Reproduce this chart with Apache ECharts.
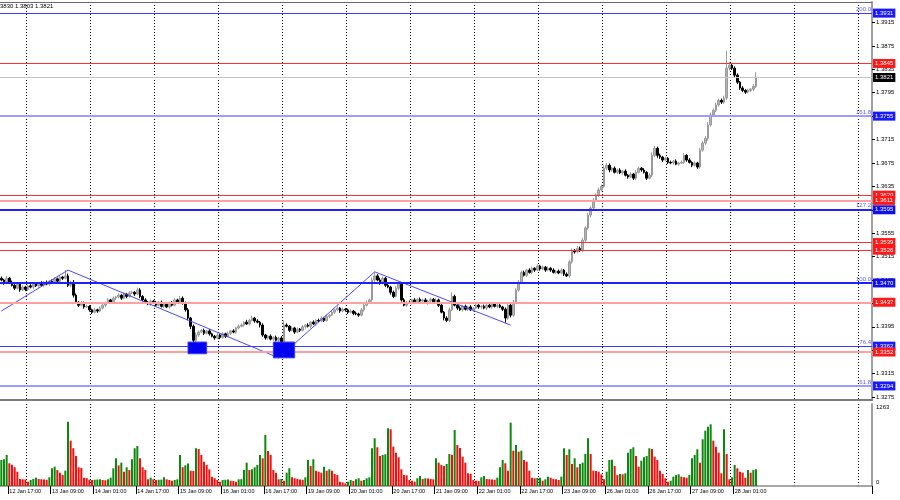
<!DOCTYPE html>
<html><head><meta charset="utf-8">
<script src="https://cdn.jsdelivr.net/npm/echarts@6/dist/echarts.min.js"></script>
<style>html,body{margin:0;padding:0;background:#fff}#c{width:900px;height:500px}</style>
</head><body><div id="c"></div>
<script>
const headerText = '3830 1.3803 1.3821';
const firstOpen = 1.3478;
const closes = [
1.3475,1.3470,1.3478,1.3471,1.3466,1.3461,1.3468,1.3458,1.3463,1.3459,
1.3465,1.3463,1.3468,1.3465,1.3470,1.3466,1.3471,1.3468,1.3473,1.3470,
1.3477,1.3473,1.3480,1.3478,1.3482,1.3466,1.3471,1.3449,1.3437,1.3432,
1.3436,1.3429,1.3430,1.3424,1.3420,1.3424,1.3422,1.3427,1.3432,1.3436,
1.3441,1.3437,1.3444,1.3446,1.3449,1.3444,1.3451,1.3447,1.3453,1.3454,
1.3451,1.3458,1.3447,1.3441,1.3437,1.3434,1.3439,1.3436,1.3432,1.3437,
1.3430,1.3434,1.3429,1.3436,1.3432,1.3441,1.3437,1.3444,1.3436,1.3424,
1.3410,1.3396,1.3372,1.3381,1.3386,1.3389,1.3384,1.3388,1.3383,1.3379,
1.3376,1.3381,1.3377,1.3383,1.3379,1.3384,1.3388,1.3386,1.3393,1.3396,
1.3398,1.3403,1.3400,1.3406,1.3410,1.3405,1.3403,1.3398,1.3381,1.3376,
1.3379,1.3374,1.3377,1.3372,1.3376,1.3355,1.3398,1.3396,1.3389,1.3393,
1.3386,1.3391,1.3389,1.3395,1.3398,1.3396,1.3403,1.3400,1.3406,1.3405,
1.3410,1.3406,1.3413,1.3415,1.3420,1.3424,1.3427,1.3422,1.3425,1.3424,
1.3420,1.3422,1.3418,1.3417,1.3415,1.3424,1.3432,1.3437,1.3441,1.3475,
1.3482,1.3475,1.3470,1.3478,1.3466,1.3463,1.3454,1.3447,1.3461,1.3468,
1.3441,1.3432,1.3437,1.3436,1.3441,1.3437,1.3442,1.3439,1.3441,1.3436,
1.3439,1.3442,1.3437,1.3441,1.3432,1.3420,1.3410,1.3406,1.3424,1.3447,
1.3432,1.3427,1.3424,1.3430,1.3425,1.3429,1.3424,1.3427,1.3432,1.3429,
1.3430,1.3427,1.3432,1.3429,1.3434,1.3430,1.3432,1.3429,1.3425,1.3410,
1.3432,1.3415,1.3437,1.3458,1.3471,1.3488,1.3483,1.3492,1.3488,1.3495,
1.3492,1.3499,1.3494,1.3497,1.3492,1.3495,1.3492,1.3488,1.3490,1.3487,
1.3492,1.3485,1.3482,1.3506,1.3526,1.3523,1.3529,1.3526,1.3543,1.3564,
1.3586,1.3598,1.3611,1.3620,1.3629,1.3635,1.3666,1.3671,1.3663,1.3666,
1.3659,1.3663,1.3658,1.3661,1.3654,1.3651,1.3656,1.3649,1.3659,1.3666,
1.3663,1.3659,1.3649,1.3654,1.3688,1.3700,1.3688,1.3685,1.3680,1.3683,
1.3676,1.3675,1.3678,1.3673,1.3675,1.3676,1.3688,1.3680,1.3676,1.3671,
1.3675,1.3668,1.3697,1.3709,1.3717,1.3740,1.3757,1.3765,1.3774,1.3782,
1.3779,1.3786,1.3837,1.3842,1.3837,1.3825,1.3813,1.3803,1.3799,1.3796,
1.3799,1.3801,1.3806,1.3821];
// wick lengths in pips (0.0001)
const wickUp = [
3,2,4,2,3,2,3,2,3,2, 2,3,2,3,2,3,2,3,2,3, 3,2,3,2,10,4,3,4,3,2, 3,2,3,2,2,3,2,3,3,2,
3,2,3,2,3,2,3,2,3,3, 2,4,3,2,3,2,3,2,3,2, 3,2,3,2,3,3,2,4,3,2, 3,2,3,4,3,2,3,2,3,2,
2,3,2,3,2,3,2,3,2,3, 3,2,4,3,4,2,3,2,3,2, 2,3,2,3,2,3,8,3,2,3, 2,3,2,3,2,3,2,3,2,3,
3,2,3,2,3,2,3,2,3,2, 2,3,2,3,2,3,2,3,2,4, 6,3,4,3,2,3,2,3,4,3, 2,3,2,3,2,3,2,3,2,3,
2,3,2,3,2,3,2,3,4,7, 3,2,3,2,3,2,3,2,3,2, 2,3,2,3,2,3,2,3,2,3, 4,3,4,3,4,3,3,2,3,3,
2,3,2,3,2,3,2,3,2,3, 3,2,3,4,3,2,4,3,4,3, 4,3,4,3,4,3,5,4,3,2, 3,2,3,2,3,2,3,2,4,3,
2,3,2,3,5,4,3,3,2,3, 2,3,2,3,2,3,4,2,3,2, 3,2,4,3,4,5,4,3,4,3, 3,4,29,6,4,3,3,2,3,2,
3,2,4,9];
const wickDown = [
2,3,2,3,2,3,2,3,2,3, 3,2,3,2,3,2,3,2,3,2, 2,3,2,3,2,3,3,4,3,3, 2,3,2,3,3,2,3,2,2,3,
2,3,2,3,2,3,2,3,2,2, 3,2,3,2,3,2,3,2,3,2, 2,3,2,3,2,2,3,2,3,3, 4,5,13,4,3,2,3,2,3,2,
3,2,3,2,3,2,3,2,3,2, 2,3,2,3,2,3,2,4,3,3, 3,2,3,2,3,12,3,2,3,2, 3,2,3,2,3,2,3,2,3,2,
2,3,2,3,2,3,2,3,2,3, 3,2,3,2,3,2,3,2,3,3, 3,2,3,2,3,2,4,3,2,3, 3,2,3,2,3,2,3,2,3,2,
3,2,3,2,3,2,4,3,3,2, 2,3,2,3,2,3,2,3,2,3, 3,2,3,2,3,2,3,2,3,8, 3,4,3,3,3,3,2,3,2,3,
3,2,3,2,3,2,3,2,3,2, 2,3,2,3,3,3,2,3,3,3, 3,4,3,3,3,3,3,3,4,3, 2,3,2,3,2,3,2,3,3,2,
3,2,3,2,3,3,4,3,3,2, 3,2,3,2,3,2,3,3,2,3, 2,3,3,3,3,4,3,4,3,3, 3,3,3,4,3,4,3,3,3,3,
2,3,3,3];
const volumes = [
416,427,496,363,340,300,229,112,108,104, 69,96,112,133,112,108,104,100,139,283,
309,256,213,176,245,1029,725,603,480,299, 290,133,128,100,96,101,104,107,96,92,
107,133,283,443,330,373,229,299,256,427, 603,640,443,299,256,107,133,107,96,100,
102,139,107,96,85,96,107,496,300,330, 360,245,240,603,592,496,389,336,267,149,
123,96,69,96,100,104,85,80,69,107, 110,256,373,256,267,299,336,496,443,816,
560,496,256,213,107,112,85,213,283,139, 123,112,105,100,139,416,320,427,245,229,
213,309,245,267,245,192,176,69,59,43, 69,96,80,107,123,85,96,123,139,603,
763,619,480,496,507,923,907,629,533,459, 267,176,170,96,85,69,123,160,112,123,
118,112,107,443,373,336,320,352,512,500, 896,656,608,469,373,203,195,96,85,80,
139,160,112,108,104,100,133,299,416,363, 245,1013,565,656,549,565,416,389,245,133,
123,128,133,85,107,149,133,112,107,96, 149,603,496,587,352,443,299,352,373,512,
763,512,245,240,229,187,107,229,416,420, 320,176,192,187,203,533,592,619,480,309,
405,459,480,603,592,469,416,245,192,123, 69,85,149,176,187,149,139,133,176,443,
496,587,373,747,885,949,986,725,629,533, 203,907,512,107,139,336,283,229,213,133,
256,213,256,267];
const timeLabels = ['12 Jan 17:00','13 Jan 09:00','14 Jan 01:00','14 Jan 17:00','15 Jan 09:00','16 Jan 01:00',
'16 Jan 17:00','19 Jan 09:00','20 Jan 01:00','20 Jan 17:00','21 Jan 09:00','22 Jan 01:00','22 Jan 17:00',
'23 Jan 09:00','26 Jan 01:00','26 Jan 17:00','27 Jan 09:00','28 Jan 01:00'];
const priceTicks = [1.3275,1.3315,1.3355,1.3395,1.3435,1.3475,1.3515,1.3555,1.3595,1.3635,1.3675,1.3715,1.3755,1.3795,1.3835,1.3875,1.3915];
const volumeTicks = [0, 1263];
const levelPrices = [1.3931,1.3845,1.3821,1.3755,1.3620,1.3611,1.3595,1.3539,1.3526,1.3470,1.3437,1.3362,1.3352,1.3294];
const levelKinds  = ['fib','res','cur','fibL','res','sup','fibS','res','res','fibS','sup','fib','sup','fibL'];
const fibPrices = [1.3931,1.3755,1.3595,1.3470,1.3362,1.3294];
const fibTexts  = ['200.0','161.8','127.2','100.0','76.4','61.8'];
const trendBars   = [0, 25, 104, 140, 191];
const trendPrices = [1.3422, 1.3492, 1.3342, 1.3489, 1.3398];
const boxBarFrom = [70, 102];
const boxBarTo   = [77, 110];
const boxTop     = [1.3369, 1.3369];
const boxBottom  = [1.3349, 1.3342];

// ---- rendering ----
const SLOTS = 327;
const FIRST_LABEL = 3, LABEL_STEP = 16, FIRST_DAY = 10, DAY_STEP = 24;
const FONT = 'Liberation Sans';
const cats = Array.from({length: SLOTS}, (_, i) => String(i));
let prev = firstOpen;
const candleData = closes.map((c, i) => {
  const o = prev; prev = c;
  return [o, c, Math.min(o, c) - wickDown[i] / 10000, Math.max(o, c) + wickUp[i] / 10000];
});
const GREEN = '#0c880c', RED = '#f01010';
const volData = volumes.map((v, i) => ({value: v, itemStyle: {color: (i === 0 || v > volumes[i - 1]) ? GREEN : RED}}));
const kindStyle = {
  fib:  {line: '#3a3aff', w: 1,   box: '#1a1aff'},
  fibL: {line: '#9c9cff', w: 2,   box: '#1a1aff'},
  fibS: {line: '#2020ff', w: 2,   box: '#1010ee'},
  res:  {line: '#ff3030', w: 1,   box: '#ff1818'},
  sup:  {line: '#ffa0a0', w: 2,   box: '#ff1818'},
  cur:  {line: '#c6c6c6', w: 1,   box: '#000000'}
};
const levelLines = levelPrices.map((p, i) => {
  const s = kindStyle[levelKinds[i]];
  return {yAxis: p, lineStyle: {color: s.line, width: s.w, type: 'solid', opacity: 1},
    label: {show: true, position: 'end', distance: 1, formatter: p.toFixed(4), color: '#fff',
      backgroundColor: s.box, padding: [1, 2, 0, 2], fontSize: 6, lineHeight: 8, fontFamily: FONT}};
});
const fibLines = fibPrices.map((p, i) => ({yAxis: p, lineStyle: {color: 'rgba(0,0,0,0)', width: 0},
    label: {show: true, position: 'insideEndTop', distance: 1, formatter: fibTexts[i], color: '#5c5cff', fontSize: 6, fontFamily: FONT}}));

const dash = {show: true, lineStyle: {color: '#000', width: 1, type: [1, 2]},
  interval: (idx) => idx >= FIRST_DAY && (idx - FIRST_DAY) % DAY_STEP === 0};
const isLabel = (idx) => idx >= FIRST_LABEL && (idx - FIRST_LABEL) % LABEL_STEP === 0 && (idx - FIRST_LABEL) / LABEL_STEP < timeLabels.length;

const chart = echarts.init(document.getElementById('c'), null, {renderer: 'canvas'});
chart.setOption({
  animation: false,
  backgroundColor: '#fff',
  title: {text: headerText, left: 0, top: 3, padding: 0,
    textStyle: {fontSize: 6, fontWeight: 'normal', color: '#000', fontFamily: FONT}},
  grid: [
    {left: 0, right: 28, top: 2, height: 398},
    {left: 0, right: 28, top: 404, height: 82}
  ],
  xAxis: [
    {type: 'category', gridIndex: 0, data: cats, boundaryGap: true,
      axisLine: {show: true, lineStyle: {color: '#7c7c7c', width: 2}},
      axisTick: {show: false}, axisLabel: {show: false}, splitLine: dash},
    {type: 'category', gridIndex: 0, data: cats, position: 'top',
      axisLine: {show: true, lineStyle: {color: '#6a6a6a', width: 1}},
      axisTick: {show: false}, axisLabel: {show: false}, splitLine: {show: false}},
    {type: 'category', gridIndex: 1, data: cats, boundaryGap: true,
      axisLine: {show: true, lineStyle: {color: '#8a8a8a', width: 1.5}},
      axisTick: {show: true, length: 8, interval: isLabel, lineStyle: {color: '#000'}},
      axisLabel: {show: true, interval: isLabel, align: 'left', margin: 2, fontSize: 5.5, color: '#000', fontFamily: FONT,
        formatter: (v) => timeLabels[(+v - FIRST_LABEL) / LABEL_STEP]},
      splitLine: dash}
  ],
  yAxis: [
    {type: 'value', gridIndex: 0, position: 'right', min: 1.3270, max: 1.3950,
      axisLine: {show: true, lineStyle: {color: '#a0a0a0', width: 2}},
      axisTick: {show: true, length: 3, customValues: priceTicks, lineStyle: {color: '#000'}},
      axisLabel: {show: true, customValues: priceTicks, margin: 4, fontSize: 6, color: '#000', fontFamily: FONT,
        formatter: (v) => v.toFixed(4)},
      splitLine: {show: false}},
    {type: 'value', gridIndex: 1, position: 'right', min: 0, max: 1311,
      axisLine: {show: true, lineStyle: {color: '#a0a0a0', width: 2}},
      axisTick: {show: false},
      axisLabel: {show: true, customValues: volumeTicks, margin: 4, fontSize: 6, color: '#000', fontFamily: FONT,
        formatter: (v) => v === 0 ? '{z|0}' : '{t|' + v + '}',
        rich: {z: {fontSize: 6, fontFamily: FONT, padding: [0, 0, 8, 0]}, t: {fontSize: 6, fontFamily: FONT}}},
      splitLine: {show: false}}
  ],
  series: [
    {type: 'line', xAxisIndex: 0, yAxisIndex: 0, data: [], z: 1, silent: true,
      markLine: {silent: true, precision: 4, symbol: ['none', 'none'], animation: false, data: levelLines}},
    {type: 'line', xAxisIndex: 0, yAxisIndex: 0, data: [], z: 1, silent: true,
      markLine: {silent: true, precision: 4, symbol: ['none', 'none'], animation: false, data: fibLines}},
    {type: 'candlestick', xAxisIndex: 0, yAxisIndex: 0, data: candleData, barWidth: 2, z: 2,
      itemStyle: {color: '#b4b4b4', color0: '#000', borderColor: '#9a9a9a', borderColor0: '#000', borderWidth: 1}},
    {type: 'line', xAxisIndex: 0, yAxisIndex: 0, z: 3, silent: true, symbol: 'none',
      data: trendBars.map((b, i) => [b, trendPrices[i]]),
      lineStyle: {color: '#4848ff', width: 1}},
    {type: 'line', xAxisIndex: 0, yAxisIndex: 0, z: 6, zlevel: 0, silent: true, data: [],
      markArea: {silent: true, z: 6, itemStyle: {color: '#0000f0', borderColor: '#3c3cff', borderWidth: 1, opacity: 1},
        data: boxBarFrom.map((b, i) => [{xAxis: b, yAxis: boxTop[i]}, {xAxis: boxBarTo[i], yAxis: boxBottom[i]}])}},
    {type: 'bar', xAxisIndex: 2, yAxisIndex: 1, data: volData, barWidth: 2, silent: true}
  ]
});
</script></body></html>
